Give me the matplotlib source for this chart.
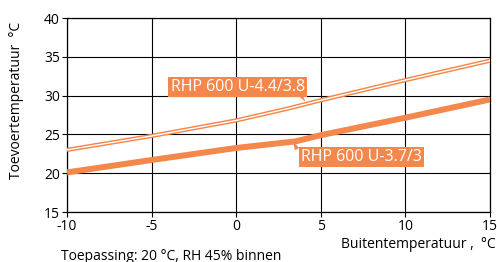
import matplotlib
matplotlib.use("Agg")
import matplotlib.pyplot as plt

plt.rcParams['font.family'] = ['Open Sans', 'DejaVu Sans']

ORANGE = '#F4874B'

x_a = [-10, -5, 0, 3, 5, 10, 15]
y_a = [23.0, 24.8, 26.8, 28.3, 29.4, 32.0, 34.5]   # RHP 600 U-4.4/3.8
x_b = [-10, -5, 0, 3.5, 5, 10, 15]
y_b = [20.1, 21.7, 23.25, 24.1, 24.9, 27.15, 29.5]  # RHP 600 U-3.7/3

label_a = 'RHP 600 U-4.4/3.8'
label_b = 'RHP 600 U-3.7/3'
xticks = [-10, -5, 0, 5, 10, 15]
yticks = [15, 20, 25, 30, 35, 40]

fig = plt.figure(figsize=(4.97, 2.62), dpi=100)
ax = fig.add_axes([67/497, 1-212/262, (490-67)/497, (212-18)/262])

ax.set_xlim(-10, 15)
ax.set_ylim(15, 40)
ax.set_xticks(xticks)
ax.set_yticks(yticks)
ax.grid(True, color='black', lw=0.8)
ax.set_axisbelow(True)
for s in ax.spines.values():
    s.set_linewidth(0.9)
ax.tick_params(length=3.5, width=0.8, labelsize=10, pad=1.5)
ax.set_xticklabels([str(t) if t >= 0 else '-' + str(-t) for t in xticks])

# double line
ax.plot(x_a, y_a, color=ORANGE, lw=3.1, solid_capstyle='butt', zorder=3)
ax.plot(x_a, y_a, color='white', lw=1.0, solid_capstyle='butt', zorder=4)
# thick line
ax.plot(x_b, y_b, color=ORANGE, lw=4.3, solid_capstyle='butt', zorder=3)

bbox = dict(boxstyle='square,pad=0.15', fc=ORANGE, ec='none')
ax.text(0.1, 31.1, label_a, color='white', fontsize=11.5, ha='center', va='center',
        bbox=bbox, zorder=5)
ax.text(7.4, 22.1, label_b, color='white', fontsize=11.5, ha='center', va='center',
        bbox=bbox, zorder=5)
ax.annotate('', xy=(4.1, 29.2), xytext=(3.75, 30.2), zorder=5,
            arrowprops=dict(arrowstyle='wedge,tail_width=0.35', fc=ORANGE, ec='none',
                            shrinkA=0, shrinkB=0))
ax.annotate('', xy=(3.35, 24.1), xytext=(3.6, 23.1), zorder=5,
            arrowprops=dict(arrowstyle='wedge,tail_width=0.35', fc=ORANGE, ec='none',
                            shrinkA=0, shrinkB=0))

fig.text(17/497, 1-100/262, 'Toevoertemperatuur  °C', fontsize=10, rotation=90,
         ha='center', va='center')
fig.text(496/497, 1-245/262, 'Buitentemperatuur ,  °C', fontsize=10, ha='right', va='center')
fig.text(61/497, 1-256/262, 'Toepassing: 20 °C, RH 45% binnen', fontsize=10, ha='left', va='center')

fig.savefig('out.png', dpi=100)
